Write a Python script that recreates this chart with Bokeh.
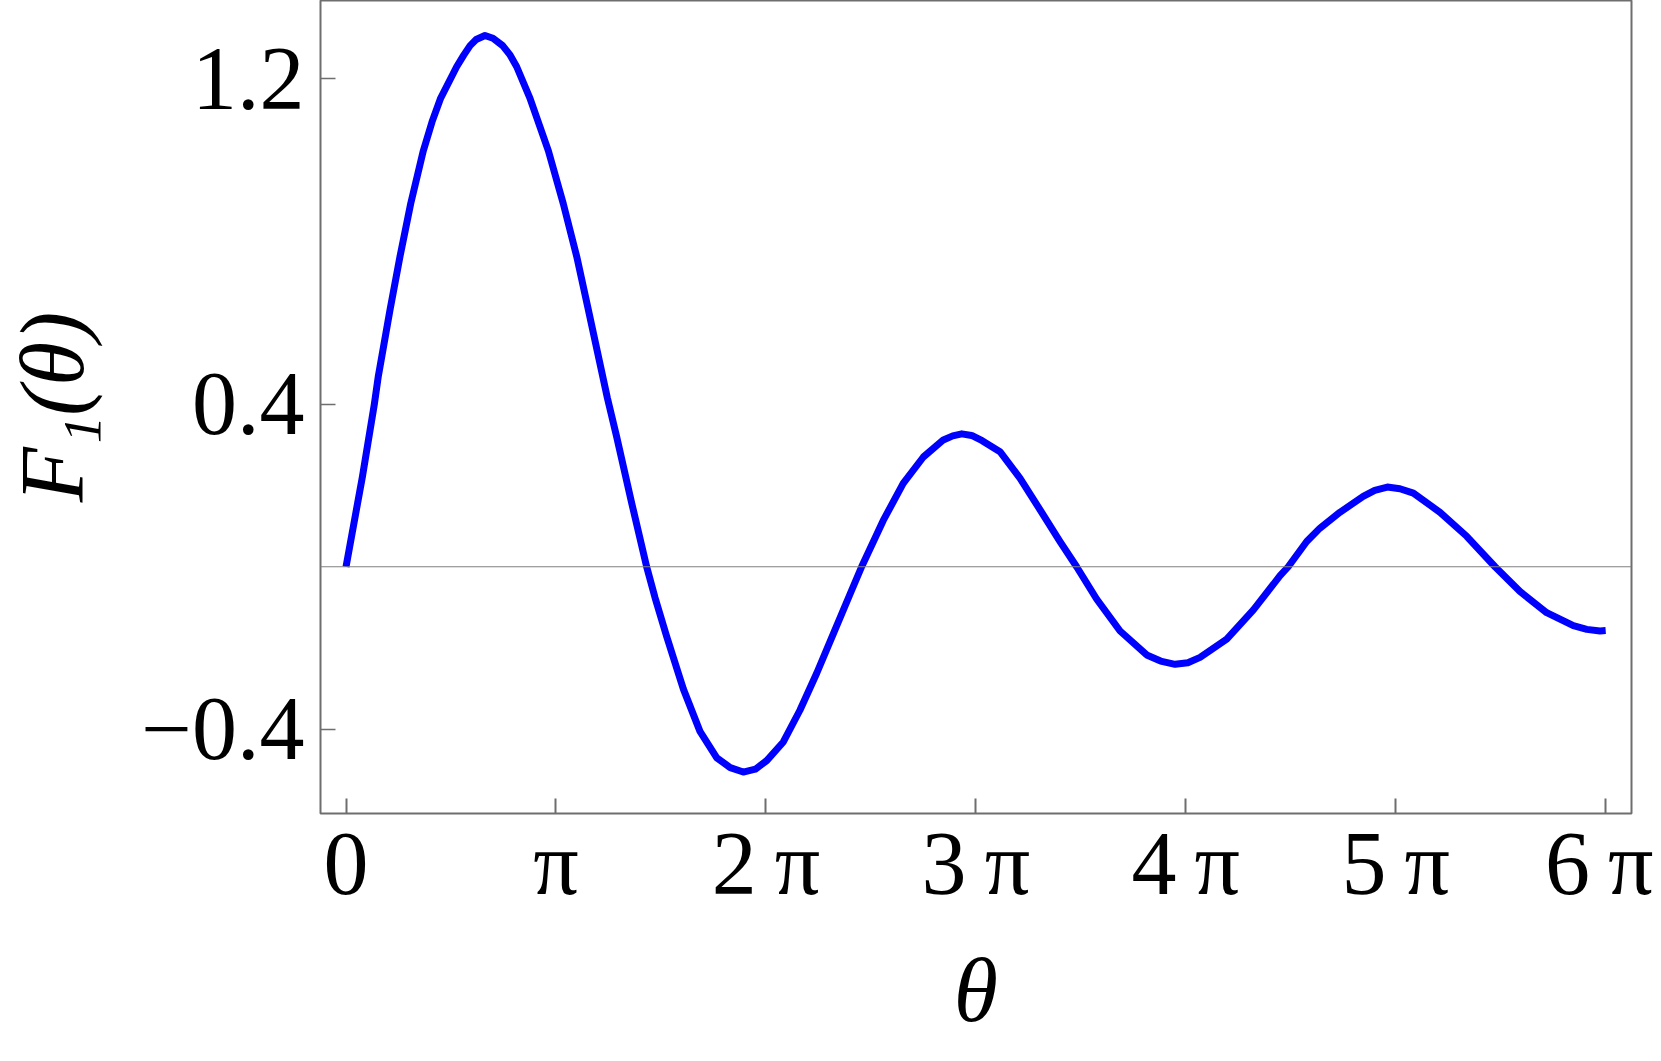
from bokeh.plotting import figure
from bokeh.models import FixedTicker, Span
from bokeh.layouts import column
from bokeh.core.properties import value
from bokeh.embed import file_html
from bokeh.resources import INLINE

# theta in units of pi
theta_over_pi = [0.000, 0.078, 0.135, 0.154, 0.210, 0.257, 0.308, 0.368, 0.410, 0.451,
                 0.527, 0.560, 0.591, 0.620, 0.662, 0.700, 0.746, 0.780, 0.813, 0.876,
                 0.964, 1.035, 1.099, 1.154, 1.245, 1.289, 1.362, 1.432, 1.472, 1.527,
                 1.607, 1.686, 1.766, 1.830, 1.892, 1.950, 2.004, 2.083, 2.162, 2.242,
                 2.321, 2.401, 2.456, 2.559, 2.654, 2.750, 2.845, 2.890, 2.933, 2.980,
                 3.030, 3.115, 3.210, 3.306, 3.401, 3.480, 3.576, 3.687, 3.814, 3.880,
                 3.949, 4.010, 4.068, 4.195, 4.322, 4.449, 4.488, 4.576, 4.639, 4.734,
                 4.845, 4.900, 4.960, 5.020, 5.084, 5.211, 5.338, 5.473, 5.592, 5.719,
                 5.846, 5.910, 5.973, 6.000]
F1_values = [0.000, 0.221, 0.400, 0.469, 0.633, 0.763, 0.893, 1.023, 1.095, 1.153,
             1.230, 1.258, 1.282, 1.297, 1.307, 1.300, 1.282, 1.260, 1.230, 1.153,
             1.023, 0.893, 0.763, 0.633, 0.415, 0.320, 0.154, 0.000, -0.076, -0.171,
             -0.301, -0.405, -0.470, -0.494, -0.505, -0.498, -0.477, -0.431, -0.353, -0.262,
             -0.165, -0.067, 0.000, 0.114, 0.205, 0.270, 0.312, 0.322, 0.327, 0.323,
             0.310, 0.283, 0.218, 0.140, 0.062, 0.000, -0.080, -0.158, -0.217, -0.232,
             -0.240, -0.236, -0.223, -0.178, -0.106, -0.022, 0.000, 0.062, 0.095, 0.134,
             0.173, 0.188, 0.196, 0.192, 0.181, 0.134, 0.075, 0.000, -0.061, -0.113,
             -0.145, -0.154, -0.158, -0.157]

x_ticks = [0, 1, 2, 3, 4, 5, 6]
x_tick_labels = ["0", "π", "2\u2009π", "3\u2009π", "4\u2009π", "5\u2009π", "6\u2009π"]
y_ticks = [-0.4, 0.4, 1.2]
y_tick_labels = ["−0.4", "0.4", "1.2"]
x_title = "θ"
y_title = "F₁(θ)"

FONT = "Liberation Serif"
FS = "90px"
GRAY = "#6e6e6e"
W = 1653
H_MAIN = 919
H_TITLE = 122
ML, MR = 314, 22

p = figure(width=W, height=H_MAIN, output_backend="svg", toolbar_location=None,
           x_range=(-0.1215, 6.123), y_range=(-0.607, 1.393),
           min_border_left=ML, min_border_right=MR, min_border_top=0, min_border_bottom=106)

p.background_fill_color = "white"
p.border_fill_color = "white"
p.outline_line_color = GRAY
p.outline_line_width = 2
p.xgrid.visible = False
p.ygrid.visible = False

p.add_layout(Span(location=0, dimension="width", line_color="#808080", line_width=1.2))

p.line(theta_over_pi, F1_values, line_color="#0000ff", line_width=7, line_join="round")

for ax in (p.xaxis[0], p.yaxis[0]):
    ax.axis_line_color = None
    ax.major_tick_in = 15
    ax.major_tick_out = 0
    ax.minor_tick_line_color = None
    ax.major_tick_line_color = GRAY
    ax.major_label_text_font = FONT
    ax.major_label_text_font_size = FS
    ax.major_label_text_color = "black"
    ax.axis_label_text_font = FONT
    ax.axis_label_text_font_size = FS
    ax.axis_label_text_font_style = "italic"
    ax.axis_label_text_color = "black"

p.xaxis.ticker = FixedTicker(ticks=x_ticks)
p.xaxis.major_label_overrides = dict(zip(x_ticks, x_tick_labels))
p.xaxis.major_tick_line_width = 2
p.xaxis.major_label_standoff = 0

p.yaxis.ticker = FixedTicker(ticks=y_ticks)
p.yaxis.major_label_overrides = dict(zip(y_ticks, y_tick_labels))
p.yaxis.major_tick_line_width = 1.5
p.yaxis.major_label_standoff = 16
p.yaxis.axis_label = y_title
p.yaxis.axis_label_standoff = 36

# strip under the plot carrying the x-axis title, sharing the x scale
t = figure(width=W, height=H_TITLE, output_backend="svg", toolbar_location=None,
           x_range=p.x_range, y_range=(0, H_TITLE), x_axis_type=None, y_axis_type=None,
           min_border_left=ML, min_border_right=MR, min_border_top=0, min_border_bottom=0)
t.outline_line_color = None
t.background_fill_color = "white"
t.border_fill_color = "white"
t.xgrid.visible = False
t.ygrid.visible = False
t.text(x=[(x_ticks[0] + x_ticks[-1]) / 2], y=[51], text=[x_title],
       text_align="center", text_baseline="middle",
       text_font=value(FONT), text_font_size=FS, text_font_style="italic", text_color="black")

layout = column(p, t, spacing=0)
open("out.html", "w").write(file_html(layout, INLINE))
